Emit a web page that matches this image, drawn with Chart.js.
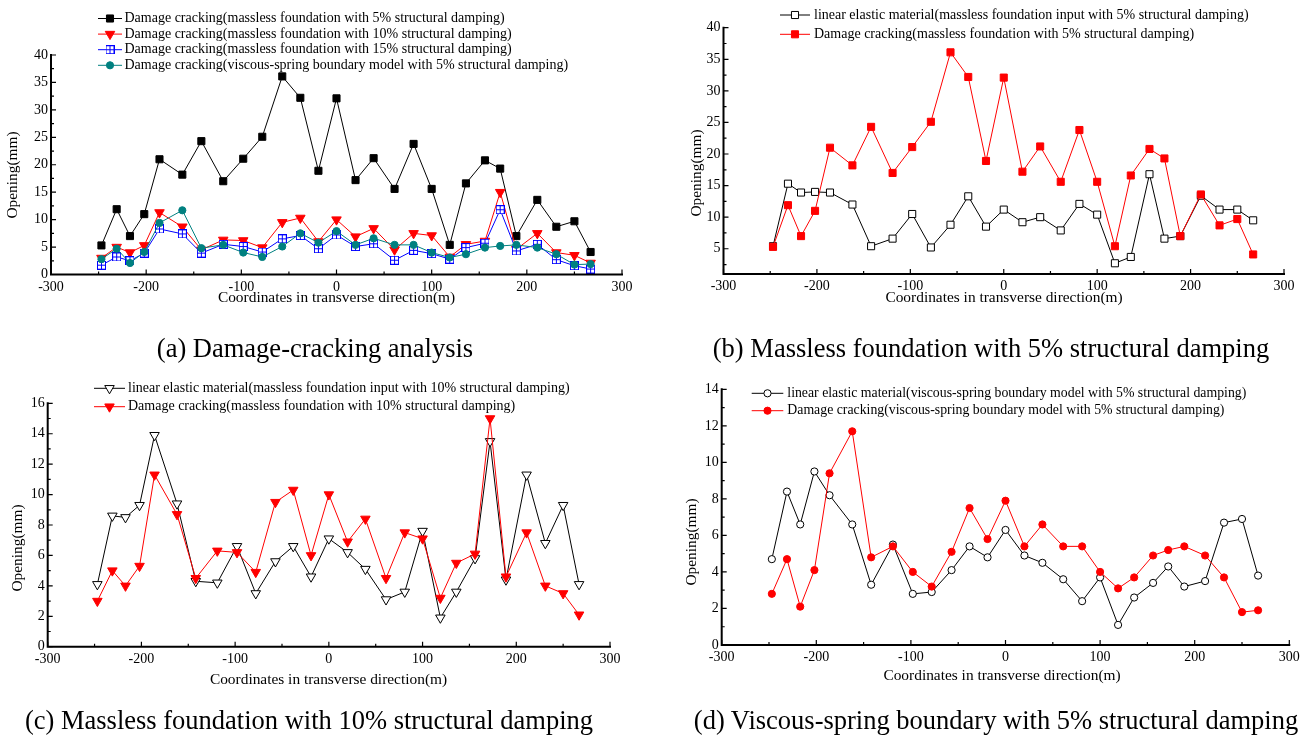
<!DOCTYPE html>
<html>
<head>
<meta charset="utf-8">
<script src="https://cdn.jsdelivr.net/npm/chart.js@4.4.1/dist/chart.umd.min.js"></script>
<style>
  html, body { margin: 0; padding: 0; background: #fff; }
  body { width: 1306px; height: 738px; position: relative; overflow: hidden;
         font-family: 'Liberation Serif', 'Times New Roman', serif; color: #000; }
  canvas { position: absolute; }
  .caption { position: absolute; font-size: 26.5px; white-space: nowrap;
             transform: translate(-50%, -50%); }
</style>
</head>
<body>
<canvas id="chartA" width="653" height="369" style="left:0;top:0"></canvas>
<canvas id="chartB" width="653" height="369" style="left:653px;top:0"></canvas>
<canvas id="chartC" width="653" height="369" style="left:0;top:369px"></canvas>
<canvas id="chartD" width="653" height="369" style="left:653px;top:369px"></canvas>
<div class="caption" style="left:315px;top:348px">(a) Damage-cracking analysis</div>
<div class="caption" style="left:991px;top:348px">(b) Massless foundation with 5% structural damping</div>
<div class="caption" style="left:309px;top:720px">(c) Massless foundation with 10% structural damping</div>
<div class="caption" style="left:996px;top:720px">(d) Viscous-spring boundary with 5% structural damping</div>

<script>
// Crack locations along the dam crest (m)
const coords = [-247, -231, -217, -202, -186, -162, -142, -119, -98, -78, -57, -38, -19, 0,
                20, 39, 61, 81, 100, 119, 136, 156, 172, 189, 211, 231, 250, 267];

// Crack openings (mm)
const damageMassless5  = [5.3, 11.9, 7.0, 11.0, 21.0, 18.2, 24.3, 17.0, 21.1, 25.1, 36.1, 32.2, 18.9, 32.1,
                          17.2, 21.2, 15.6, 23.8, 15.6, 5.4, 16.6, 20.8, 19.3, 7.0, 13.6, 8.7, 9.7, 4.1];
const damageMassless10 = [3.0, 5.0, 4.0, 5.3, 11.3, 8.7, 4.5, 6.3, 6.2, 4.9, 9.5, 10.3, 6.0, 10.0,
                          6.9, 8.4, 4.5, 7.5, 7.1, 3.2, 5.5, 6.1, 15.0, 4.6, 7.5, 4.0, 3.5, 2.1];
const damageMassless15 = [1.7, 3.2, 2.5, 3.9, 8.3, 7.4, 3.9, 5.5, 5.1, 4.1, 6.5, 7.1, 4.7, 7.2,
                          5.1, 5.6, 2.6, 4.4, 3.8, 2.8, 4.9, 5.7, 11.8, 4.3, 5.5, 2.7, 1.6, 1.0];
const damageViscous5   = [2.8, 4.7, 2.1, 4.1, 9.4, 11.7, 4.8, 5.4, 4.0, 3.2, 5.1, 7.5, 5.8, 7.9,
                          5.4, 6.6, 5.4, 5.4, 4.0, 3.1, 3.7, 4.9, 5.2, 5.4, 4.9, 3.7, 1.8, 1.9];
const elasticMassless5  = [5.4, 15.3, 13.9, 14.0, 13.9, 12.0, 5.4, 6.6, 10.5, 5.2, 8.8, 13.3, 8.5, 11.2,
                           9.2, 10.0, 7.9, 12.1, 10.4, 2.7, 3.7, 16.8, 6.6, 7.0, 13.4, 11.2, 11.2, 9.5];
const elasticMassless10 = [4.1, 8.6, 8.5, 9.3, 13.9, 9.4, 4.3, 4.2, 6.6, 3.5, 5.6, 6.6, 4.6, 7.1,
                           6.2, 5.1, 3.1, 3.6, 7.6, 1.9, 3.6, 5.8, 13.5, 4.4, 11.3, 6.8, 9.3, 4.1];
const elasticViscous5   = [4.7, 8.4, 6.6, 9.5, 8.2, 6.6, 3.3, 5.5, 2.8, 2.9, 4.1, 5.4, 4.8, 6.3,
                           4.9, 4.5, 3.6, 2.4, 3.7, 1.1, 2.6, 3.4, 4.3, 3.2, 3.5, 6.7, 6.9, 3.8];

// Axis tick labels
const xTicks  = [-300, -200, -100, 0, 100, 200, 300];
const yTicksA = [0, 5, 10, 15, 20, 25, 30, 35, 40];
const yTicksB = [5, 10, 15, 20, 25, 30, 35, 40];
const yTicksC = [0, 2, 4, 6, 8, 10, 12, 14, 16];
const yTicksD = [0, 2, 4, 6, 8, 10, 12, 14];

// Series names
const lblDamage5   = 'Damage cracking(massless foundation with 5% structural damping)';
const lblDamage10  = 'Damage cracking(massless foundation with 10% structural damping)';
const lblDamage15  = 'Damage cracking(massless foundation with 15% structural damping)';
const lblDamageVs  = 'Damage cracking(viscous-spring boundary model with 5% structural damping)';
const lblElastic5  = 'linear elastic material(massless foundation input with 5% structural damping)';
const lblElastic10 = 'linear elastic material(massless foundation input with 10% structural damping)';
const lblElasticVs = 'linear elastic material(viscous-spring boundary model with 5% structural damping)';

const SERIF = "'Liberation Serif', 'Times New Roman', serif";

// Square marker with a plus inside
function crossedSquare(color, size) {
  const c = document.createElement('canvas');
  c.width = size; c.height = size;
  const g = c.getContext('2d');
  g.fillStyle = '#fff';
  g.fillRect(0, 0, size, size);
  g.strokeStyle = color; g.lineWidth = 1;
  g.strokeRect(0.5, 0.5, size - 1, size - 1);
  const m = size / 2;
  g.beginPath();
  g.moveTo(m, 0.5); g.lineTo(m, size - 0.5);
  g.moveTo(0.5, m); g.lineTo(size - 0.5, m);
  g.stroke();
  return c;
}

const marker = {
  blackSquare:   { color: '#000', fill: '#000', style: 'rect', radius: 5 },
  redSquare:     { color: '#ff0000', fill: '#ff0000', style: 'rect', radius: 5 },
  openSquare:    { color: '#000', fill: '#fff', style: 'rect', radius: 5 },
  redDown:       { color: '#ff0000', fill: '#ff0000', style: 'triangle', rotation: 180, radius: 5.5 },
  openDown:      { color: '#000', fill: '#fff', style: 'triangle', rotation: 180, radius: 5.5 },
  blueCrossed:   { color: '#0000ff', fill: '#fff', style: crossedSquare('#0000ff', 9), radius: 4.5 },
  tealCircle:    { color: '#008080', fill: '#008080', style: 'circle', radius: 3.6 },
  redCircle:     { color: '#ff0000', fill: '#ff0000', style: 'circle', radius: 3.6 },
  openCircle:    { color: '#000', fill: '#fff', style: 'circle', radius: 3.6 }
};

// Inward major/minor ticks plus the two heavy axis lines
const axesFrame = {
  id: 'axesFrame',
  afterDraw(chart, args, o) {
    const { ctx, chartArea: a, scales: { x, y } } = chart;
    ctx.save();
    ctx.strokeStyle = '#000';
    ctx.lineWidth = 1.2;
    ctx.beginPath();
    for (let v = x.min; v <= x.max + 1e-9; v += o.xMinor) {
      const px = x.getPixelForValue(v);
      const len = xTicks.includes(v) ? 5 : 3;
      ctx.moveTo(px, a.bottom); ctx.lineTo(px, a.bottom - len);
    }
    const yStart = Math.ceil(y.min / o.yMinor) * o.yMinor;
    for (let v = yStart; v <= y.max + 1e-9; v += o.yMinor) {
      const py = y.getPixelForValue(v);
      const len = o.yMajor.includes(+v.toFixed(3)) ? 5 : 3;
      ctx.moveTo(a.left, py); ctx.lineTo(a.left + len, py);
    }
    ctx.stroke();
    ctx.lineWidth = 2;
    ctx.beginPath();
    ctx.moveTo(a.left, a.top - 1);
    ctx.lineTo(a.left, a.bottom);
    ctx.lineTo(a.right + 1, a.bottom);
    ctx.stroke();
    ctx.restore();
  }
};

// Axis titles
const axisTitles = {
  id: 'axisTitles',
  afterDraw(chart, args, o) {
    const ctx = chart.ctx;
    ctx.save();
    ctx.fillStyle = '#000';
    ctx.font = `${o.size}px ${SERIF}`;
    ctx.textAlign = 'center';
    ctx.textBaseline = 'middle';
    ctx.fillText(o.xText, o.xPos[0], o.xPos[1]);
    ctx.translate(o.yPos[0], o.yPos[1]);
    ctx.rotate(-Math.PI / 2);
    ctx.fillText(o.yText, 0, 0);
    ctx.restore();
  }
};

// Legend: a short line with the series marker in its middle, then the label
const lineLegend = {
  id: 'lineLegend',
  afterDraw(chart, args, o) {
    const ctx = chart.ctx;
    chart.data.datasets.forEach((ds, i) => {
      const y = o.y + i * o.dy;
      ctx.save();
      ctx.strokeStyle = ds.borderColor;
      ctx.lineWidth = 1;
      ctx.beginPath();
      ctx.moveTo(o.x, y); ctx.lineTo(o.x + o.len, y);
      ctx.stroke();
      ctx.fillStyle = ds.pointBackgroundColor;
      ctx.strokeStyle = ds.pointBorderColor;
      ctx.lineWidth = ds.pointBorderWidth;
      Chart.helpers.drawPoint(ctx, {
        pointStyle: ds.pointStyle, rotation: ds.pointRotation,
        radius: ds.pointRadius, borderWidth: ds.pointBorderWidth
      }, o.x + o.len / 2, y);
      ctx.fillStyle = '#000';
      ctx.font = `${o.size}px ${SERIF}`;
      ctx.textAlign = 'left';
      ctx.textBaseline = 'middle';
      ctx.fillText(ds.label, o.x + o.len + o.gap, y);
      ctx.restore();
    });
  }
};

function makeChart(id, cfg) {
  const n = cfg.series.length;
  const datasets = cfg.series.map((s, i) => ({
    label: s.label,
    data: coords.map((x, k) => ({ x, y: s.values[k] })),
    borderColor: s.mark.color,
    borderWidth: 1,
    tension: 0,
    fill: false,
    pointStyle: s.mark.style,
    pointRotation: s.mark.rotation || 0,
    pointRadius: s.mark.radius,
    pointBackgroundColor: s.mark.fill,
    pointBorderColor: s.mark.color,
    pointBorderWidth: 1,
    order: n - i
  }));
  const tickFont = { family: SERIF, size: 14 };
  return new Chart(document.getElementById(id), {
    type: 'line',
    data: { datasets },
    plugins: [axesFrame, axisTitles, lineLegend],
    options: {
      responsive: false,
      animation: false,
      devicePixelRatio: 1,
      layout: { padding: cfg.padding },
      plugins: {
        legend: { display: false },
        tooltip: { enabled: false },
        axesFrame: { xMinor: 50, yMinor: cfg.yMinor, yMajor: cfg.yTicks },
        axisTitles: {
          size: 15.4,
          xText: 'Coordinates in transverse direction(m)', xPos: cfg.xTitle,
          yText: 'Opening(mm)', yPos: cfg.yTitle
        },
        lineLegend: cfg.legend
      },
      scales: {
        x: {
          type: 'linear', min: -300, max: 300,
          afterBuildTicks: s => { s.ticks = xTicks.map(v => ({ value: v })); },
          afterFit: s => { s.height = 30; },
          grid: { display: false, drawTicks: false },
          border: { display: false },
          ticks: { font: tickFont, color: '#000', padding: 4, maxRotation: 0, autoSkip: false,
                   callback: v => String(v) }
        },
        y: {
          type: 'linear', min: cfg.yMin, max: cfg.yMax,
          afterBuildTicks: s => { s.ticks = cfg.yTicks.map(v => ({ value: v })); },
          afterFit: s => { s.width = cfg.yWidth; },
          grid: { display: false, drawTicks: false },
          border: { display: false },
          ticks: { font: tickFont, color: '#000', padding: 3, autoSkip: false,
                   callback: v => String(v) }
        }
      }
    }
  });
}

makeChart('chartA', {
  series: [
    { label: lblDamage5,  values: damageMassless5,  mark: marker.blackSquare },
    { label: lblDamage10, values: damageMassless10, mark: marker.redDown },
    { label: lblDamage15, values: damageMassless15, mark: marker.blueCrossed },
    { label: lblDamageVs, values: damageViscous5,   mark: marker.tealCircle }
  ],
  yMin: 0, yMax: 40, yTicks: yTicksA, yMinor: 2.5, yWidth: 51,
  padding: { left: 0, right: 31, top: 55, bottom: 64.5 },
  xTitle: [336.5, 298], yTitle: [13, 175],
  legend: { x: 98, y: 18.5, dy: 15.6, len: 24, gap: 2.5, size: 14 }
});

makeChart('chartB', {
  series: [
    { label: lblElastic5, values: elasticMassless5, mark: marker.openSquare },
    { label: lblDamage5,  values: damageMassless5,  mark: marker.redSquare }
  ],
  yMin: 1, yMax: 40, yTicks: yTicksB, yMinor: 2.5, yWidth: 70.5,
  padding: { left: 0, right: 22, top: 27.7, bottom: 65 },
  xTitle: [351, 298], yTitle: [44, 173],
  legend: { x: 127, y: 15, dy: 19.3, len: 30, gap: 4, size: 14 }
});

makeChart('chartC', {
  series: [
    { label: lblElastic10, values: elasticMassless10, mark: marker.openDown },
    { label: lblDamage10,  values: damageMassless10,  mark: marker.redDown }
  ],
  yMin: 0, yMax: 16, yTicks: yTicksC, yMinor: 1, yWidth: 47.7,
  padding: { left: 0, right: 43, top: 34.3, bottom: 61.3 },
  xTitle: [328.5, 311], yTitle: [18, 179],
  legend: { x: 94, y: 19.3, dy: 18.4, len: 31, gap: 3, size: 14 }
});

makeChart('chartD', {
  series: [
    { label: lblElasticVs, values: elasticViscous5, mark: marker.openCircle },
    { label: lblDamageVs,  values: damageViscous5,  mark: marker.redCircle }
  ],
  yMin: 0, yMax: 14, yTicks: yTicksD, yMinor: 1, yWidth: 68.7,
  padding: { left: 0, right: 16.7, top: 20.3, bottom: 63 },
  xTitle: [349, 307], yTitle: [39, 173],
  legend: { x: 98.7, y: 24.3, dy: 17.4, len: 31.6, gap: 4, size: 13.8 }
});
</script>
</body>
</html>
